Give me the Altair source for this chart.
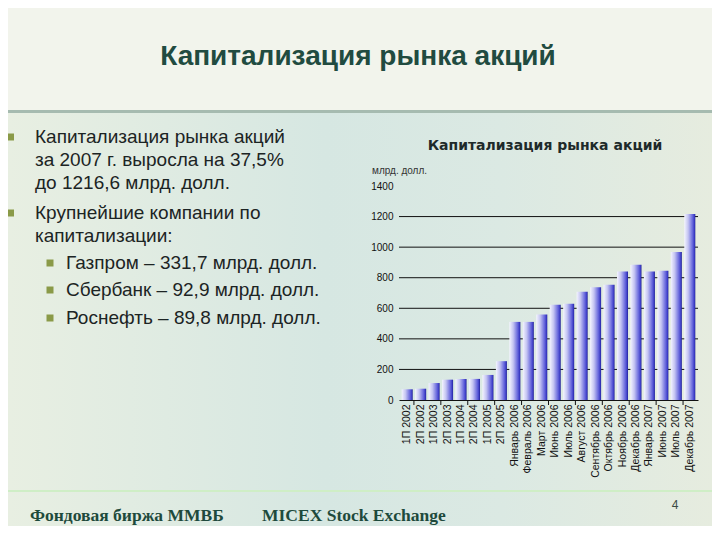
import altair as alt
import pandas as pd

# ---- data ----
periods = ["1П 2002", "2П 2002", "1П 2003", "2П 2003", "1П 2004", "2П 2004",
           "1П 2005", "2П 2005", "Январь 2006", "Февраль 2006", "Март 2006",
           "Июнь 2006", "Июль 2006", "Август 2006", "Сентябрь 2006",
           "Октябрь 2006", "Ноябрь 2006", "Декабрь 2006", "Январь 2007",
           "Июнь 2007", "Июль 2007", "Декабрь 2007"]
capitalization = [70, 74, 111, 133, 138, 138, 164, 254, 511, 511, 560,
                  623, 630, 708, 737, 754, 841, 885, 841, 846, 968, 1216.6]
y_ticks = [0, 200, 400, 600, 800, 1000, 1200, 1400]
grid_values = [200, 400, 600, 800, 1000, 1200]

slide_title = "Капитализация рынка акций"
chart_title = "Капитализация рынка акций"
unit_label = "млрд. долл."
bullet1_lines = ["Капитализация рынка акций", "за 2007 г. выросла на 37,5%",
                 "до 1216,6 млрд. долл."]
bullet2_lines = ["Крупнейшие компании по", "капитализации:"]
sub_lines = ["Газпром – 331,7 млрд. долл.", "Сбербанк – 92,9 млрд. долл.",
             "Роснефть – 89,8 млрд. долл."]
footer_ru = "Фондовая биржа ММВБ"
footer_en = "MICEX Stock Exchange"
page_no = "4"

# ---- layout (page pixels -> plot-relative) ----
OX, OY = 399, 186
W, H = 299, 214


def px(x):
    return alt.value(x - OX)


def py(y):
    return alt.value(y - OY)


one = pd.DataFrame({"k": [0]})


def txt(s, x, y, size=19, color="#1c2424", font="Liberation Sans",
        weight="normal", align="left", baseline="middle"):
    return alt.Chart(pd.DataFrame({"t": [s]})).mark_text(
        align=align, baseline=baseline, font=font, fontSize=size,
        fontWeight=weight, color=color
    ).encode(text="t:N", x=px(x), y=py(y))


def rect(x1, x2, y1, y2, color):
    return alt.Chart(one).mark_rect(color=color).encode(
        x=px(x1), x2=px(x2), y=py(y1), y2=py(y2))


def square(x, y, color="#8a9a48"):
    return alt.Chart(one).mark_square(size=49, color=color, opacity=1).encode(
        x=px(x), y=py(y))


body_grad = alt.Gradient(
    gradient="linear", x1=0, x2=1, y1=0, y2=0,
    stops=[alt.GradientStop(color="#e8efe2", offset=0),
           alt.GradientStop(color="#d6e7e2", offset=0.45),
           alt.GradientStop(color="#dbe9e3", offset=0.7),
           alt.GradientStop(color="#e6ecdf", offset=1)])

bg = alt.Chart(one).mark_rect(color=body_grad).encode(
    x=px(8), x2=px(712), y=py(113), y2=py(530))
top_band = rect(8, 712, 8, 110, "#f2f4ec")
sep_top = rect(8, 712, 110, 113, "#a6bbb0")
sep_bottom = rect(8, 712, 490, 492, "#cfeec6")

texts = [txt(slide_title, 358, 57, size=28, color="#214b40",
             weight="bold", align="center"),
         txt(chart_title, 545, 146, size=14, color="#1e2a2a",
             font="DejaVu Sans", weight="bold", align="center"),
         txt(unit_label, 372, 171, size=10, color="#333333")]

for i, s in enumerate(bullet1_lines):
    texts.append(txt(s, 35, 137 + 23 * i))
for i, s in enumerate(bullet2_lines):
    texts.append(txt(s, 35, 213 + 23 * i))
sub_y = [263, 290, 318]
for s, yy in zip(sub_lines, sub_y):
    texts.append(txt(s, 66, yy))

bullets = [square(10.5, 137), square(10.5, 213)] + [square(50, yy) for yy in sub_y]

texts.append(txt(footer_ru, 30, 516, size=17.5, color="#1e4a3c",
                 font="Liberation Serif", weight="bold"))
texts.append(txt(footer_en, 262, 516, size=17.5, color="#1e4a3c",
                 font="Liberation Serif", weight="bold"))
texts.append(txt(page_no, 675, 505, size=12, color="#3a4a44", align="center"))

# ---- chart ----
df = pd.DataFrame({"period": periods, "value": capitalization})
xscale = alt.Scale(domain=periods, paddingInner=0.18, paddingOuter=0.2)
yscale = alt.Scale(domain=[0, 1400])

xaxis = alt.Axis(title=None, labelAngle=270, ticks=False, zindex=2,
                 domainColor="#111111", domainWidth=1,
                 labelFont="Liberation Sans", labelFontSize=10.5,
                 labelColor="#111111", labelPadding=4, labelOverlap=False)
yaxis = alt.Axis(title=None, values=y_ticks, grid=False, domain=False,
                 ticks=False, labelFont="Liberation Sans", zindex=2,
                 format="d", labelFontSize=10, labelColor="#111111",
                 labelPadding=6)

bar_grad = alt.Gradient(
    gradient="linear", x1=0, x2=1, y1=0, y2=0,
    stops=[alt.GradientStop(color="#f4f4ff", offset=0),
           alt.GradientStop(color="#c4c4f2", offset=0.35),
           alt.GradientStop(color="#6666dc", offset=0.75),
           alt.GradientStop(color="#3a3ac4", offset=0.92),
           alt.GradientStop(color="#1e1e8a", offset=1)])

grid = alt.Chart(pd.DataFrame({"value": grid_values})).mark_rule(
    color="#111111", strokeWidth=1).encode(
    y=alt.Y("value:Q", scale=yscale, axis=yaxis),
    x=alt.value(0), x2=alt.value(W))

bars = alt.Chart(df).mark_bar(color=bar_grad).encode(
    x=alt.X("period:N", scale=xscale, sort=periods, axis=xaxis),
    y=alt.Y("value:Q", scale=yscale, axis=yaxis))

tick_periods = periods[0:-1:2]
xticks = alt.Chart(pd.DataFrame({"period": tick_periods})).mark_rule(
    color="#111111", strokeWidth=1, xOffset=1.2).encode(
    x=alt.X("period:N", scale=xscale, sort=periods, bandPosition=1,
            axis=xaxis),
    y=alt.value(H), y2=alt.value(H + 5))

chart = alt.layer(
    bg, top_band, sep_top, sep_bottom, *texts, *bullets, grid, bars, xticks
).properties(
    width=W, height=H,
    autosize=alt.AutoSizeParams(type="none"),
    padding={"left": OX - 8, "top": OY - 8, "right": 704 - (OX - 8) - W,
             "bottom": 518 - (OY - 8) - H},
    background="#e3ece6"
).configure_view(stroke=None)

chart.save("out.html", embed_options={"renderer": "svg", "actions": False})
